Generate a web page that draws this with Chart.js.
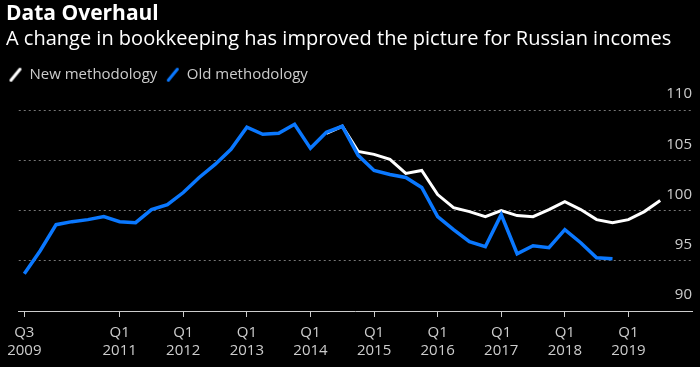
<!DOCTYPE html>
<html>
<head>
<meta charset="utf-8">
<script src="https://cdn.jsdelivr.net/npm/chart.js@4.4.0/dist/chart.umd.min.js"></script>
<style>
  html, body { margin: 0; padding: 0; background: #000; }
  #wrap { width: 700px; height: 367px; }
</style>
</head>
<body>
<div id="wrap"><canvas id="myChart" width="700" height="367"></canvas></div>
<script>
// quarterly index, Q3 2009 .. Q3 2019
var quarters = [
  "Q3 2009","Q4 2009",
  "Q1 2010","Q2 2010","Q3 2010","Q4 2010",
  "Q1 2011","Q2 2011","Q3 2011","Q4 2011",
  "Q1 2012","Q2 2012","Q3 2012","Q4 2012",
  "Q1 2013","Q2 2013","Q3 2013","Q4 2013",
  "Q1 2014","Q2 2014","Q3 2014","Q4 2014",
  "Q1 2015","Q2 2015","Q3 2015","Q4 2015",
  "Q1 2016","Q2 2016","Q3 2016","Q4 2016",
  "Q1 2017","Q2 2017","Q3 2017","Q4 2017",
  "Q1 2018","Q2 2018","Q3 2018","Q4 2018",
  "Q1 2019","Q2 2019","Q3 2019"
];

var oldMethod = [
  93.7, 96.0, 98.6, 98.9, 99.1, 99.4, 98.9, 98.8,
  100.1, 100.6, 101.8, 103.3, 104.6, 106.1, 108.3, 107.6,
  107.7, 108.6, 106.2, 107.8, 108.4, 105.5, 104.0, 103.6,
  103.3, 102.3, 99.4, 98.1, 96.9, 96.4, 99.6, 95.7,
  96.5, 96.3, 98.1, 96.8, 95.3, 95.2
];

var newMethod = [
  null, null, null, null, null, null, null, null,
  null, null, null, null, null, null, null, null,
  null, null, null, 107.7, 108.4, 105.9, 105.6, 105.1,
  103.7, 104.0, 101.6, 100.3, 99.9, 99.4, 100.0, 99.5,
  99.4, 100.1, 100.9, 100.1, 99.1, 98.8, 99.1, 99.9, 101.0
];

var tickLabels = ["Q3 2009","Q1 2011","Q1 2012","Q1 2013","Q1 2014",
                  "Q1 2015","Q1 2016","Q1 2017","Q1 2018","Q1 2019"];
var yTicks = [90, 95, 100, 105, 110];

function points(arr) {
  var out = [];
  arr.forEach(function (v, i) { out.push({x: i, y: v}); });
  return out;
}

// slanted stroke used as legend marker
function slash(color) {
  var c = document.createElement('canvas');
  c.width = 14; c.height = 16;
  var g = c.getContext('2d');
  g.strokeStyle = color;
  g.lineWidth = 3;
  g.lineCap = 'round';
  g.beginPath();
  g.moveTo(2.5, 13.5);
  g.lineTo(11.5, 2.5);
  g.stroke();
  return c;
}

var FONT = "'Open Sans', 'DejaVu Sans', sans-serif";

// nudge title/subtitle right and leave room under the legend
var layoutTweaks = {
  id: 'layoutTweaks',
  beforeInit: function (chart) {
    var legend = chart.legend;
    var fit = legend.fit;
    legend.fit = function () {
      fit.call(this);
      this.height += 18;
    };
  },
  afterLayout: function (chart) {
    chart.boxes.forEach(function (b) {
      if (b.options && typeof b.options.text === 'string' && !b.legendItems) {
        b.left += 6;
        b.right += 6;
      }
    });
  }
};

new Chart(document.getElementById("myChart"), {
  type: 'line',
  data: {
    datasets: [{
      label: "Old methodology",
      data: points(oldMethod),
      xAxisID: 'x',
      yAxisID: 'y',
      borderColor: "#0a78ff",
      borderWidth: 3.5,
      pointRadius: 0,
      tension: 0,
      pointStyle: slash("#0a78ff")
    }, {
      label: "New methodology",
      data: points(newMethod),
      xAxisID: 'x',
      yAxisID: 'y',
      borderColor: "#ffffff",
      borderWidth: 3,
      pointRadius: 0,
      tension: 0,
      pointStyle: slash("#ffffff")
    }]
  },
  plugins: [layoutTweaks],
  options: {
    responsive: false,
    animation: false,
    layout: {padding: {left: 0, right: 8, top: 0, bottom: 0}},
    plugins: {
      title: {
        display: true,
        text: 'Data Overhaul',
        align: 'start',
        color: '#ffffff',
        font: {family: FONT, size: 21, weight: 'bold'},
        padding: {top: 1, bottom: 1}
      },
      subtitle: {
        display: true,
        text: 'A change in bookkeeping has improved the picture for Russian incomes',
        align: 'start',
        color: '#ffffff',
        font: {family: FONT, size: 20},
        padding: {top: 0, bottom: 7}
      },
      legend: {
        display: true,
        align: 'start',
        reverse: true,
        labels: {
          usePointStyle: true,
          pointStyleWidth: 13,
          color: '#cccccc',
          font: {family: FONT, size: 15},
          padding: 9
        }
      },
      tooltip: {enabled: false}
    },
    scales: {
      x: {
        type: 'linear',
        min: -0.35,
        max: 42,
        afterBuildTicks: function (axis) {
          axis.ticks = tickLabels.map(function (t) {
            return {value: quarters.indexOf(t)};
          });
        },
        ticks: {
          color: '#cccccc',
          font: {family: FONT, size: 15, lineHeight: 1.2},
          maxRotation: 0,
          autoSkip: false,
          padding: 7,
          callback: function (value) {
            return quarters[value].split(' ');
          }
        },
        grid: {
          drawOnChartArea: false,
          drawTicks: true,
          tickLength: 6,
          color: '#cccccc'
        },
        border: {display: true, color: '#cccccc', width: 1}
      },
      // empty axis that just holds the left margin of the plot
      pad: {
        position: 'left',
        display: true,
        min: 90,
        max: 110,
        ticks: {display: false},
        grid: {display: false},
        border: {display: false},
        afterFit: function (axis) { axis.width = 18; }
      },
      y: {
        position: 'right',
        min: 90,
        max: 110,
        afterBuildTicks: function (axis) {
          axis.ticks = yTicks.map(function (v) { return {value: v}; });
        },
        ticks: {
          mirror: true,
          padding: 0,
          labelOffset: -16,
          color: '#cccccc',
          font: {family: FONT, size: 15}
        },
        grid: {
          drawTicks: false,
          color: function (ctx) {
            return ctx.tick && ctx.tick.value === 90 ? 'rgba(0,0,0,0)' : '#777777';
          },
          lineWidth: 1
        },
        border: {display: false, dash: [2, 3]}
      }
    }
  }
});
</script>
</body>
</html>
